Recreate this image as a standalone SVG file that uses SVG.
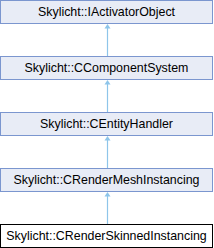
<svg xmlns="http://www.w3.org/2000/svg" width="214" height="248" viewBox="0 0 214 248">
<defs>
<style>
.n rect{fill:#e8ecf6;stroke:#7b96cf;stroke-width:1}
.n.cur rect{fill:#ffffff;stroke:#000000}
.n text{font-family:"Liberation Sans",Arial,sans-serif;font-size:12.4px;fill:#000;text-anchor:middle}
.e line{stroke:#8ec5ea;stroke-width:1.2}
.e polygon{fill:#8ec5ea}
</style>
</defs>
<rect width="214" height="248" fill="#ffffff"/>
<g class="e">
<line x1="107.5" y1="28" x2="107.5" y2="56"/><polygon points="107.5,24 104.5,28.5 110.5,28.5"/>
<line x1="107.5" y1="84" x2="107.5" y2="112"/><polygon points="107.5,80 104.5,84.5 110.5,84.5"/>
<line x1="107.5" y1="140" x2="107.5" y2="168"/><polygon points="107.5,136 104.5,140.5 110.5,140.5"/>
<line x1="107.5" y1="196" x2="107.5" y2="224"/><polygon points="107.5,192 104.5,196.5 110.5,196.5"/>
</g>
<g id="n1" class="n"><rect x="0.5" y="0.5" width="212" height="23"/><text x="106.5" y="16">Skylicht::IActivatorObject</text></g>
<g id="n2" class="n"><rect x="0.5" y="56.5" width="212" height="23"/><text x="106.5" y="72">Skylicht::CComponentSystem</text></g>
<g id="n3" class="n"><rect x="0.5" y="112.5" width="212" height="23"/><text x="106.5" y="128">Skylicht::CEntityHandler</text></g>
<g id="n4" class="n"><rect x="0.5" y="168.5" width="212" height="23"/><text x="106.5" y="184">Skylicht::CRenderMeshInstancing</text></g>
<g id="n5" class="n cur"><rect x="0.5" y="224.5" width="212" height="23"/><text x="106.5" y="240">Skylicht::CRenderSkinnedInstancing</text></g>
</svg>
